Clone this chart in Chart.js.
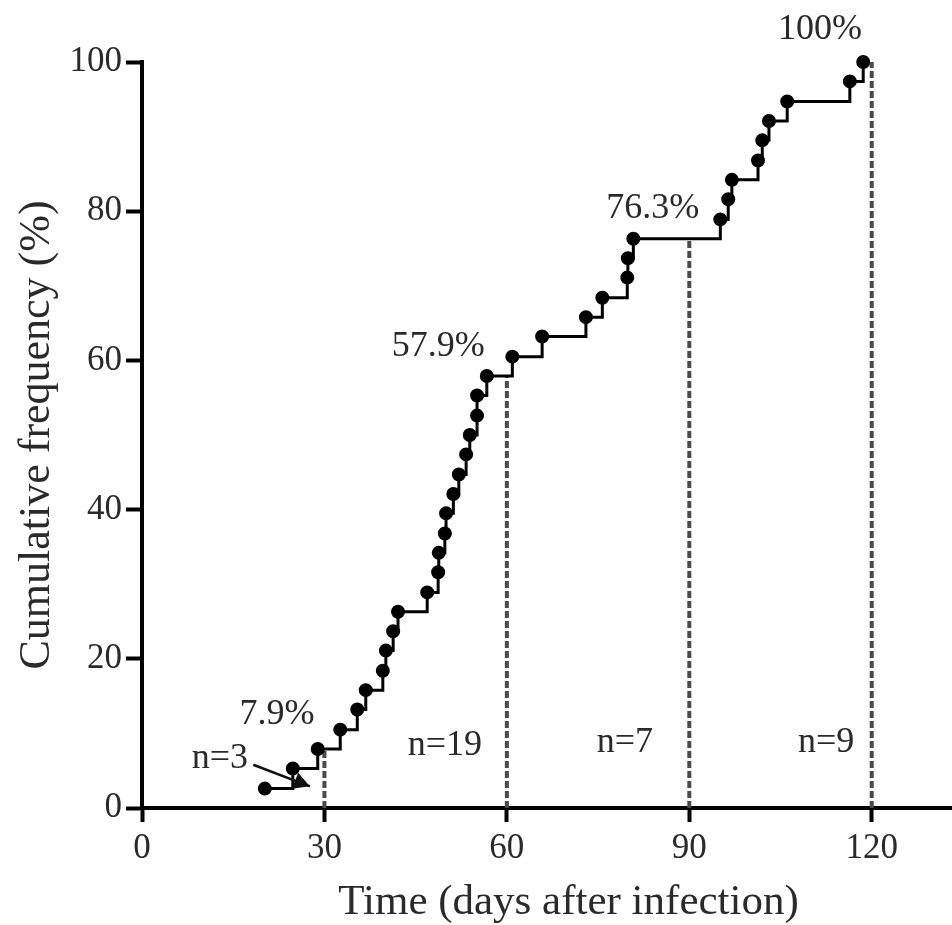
<!DOCTYPE html>
<html>
<head>
<meta charset="utf-8">
<script src="https://cdn.jsdelivr.net/npm/chart.js@4/dist/chart.umd.min.js"></script>
<style>
    body { margin: 0; background: #fff; }
    #wrap { width: 952px; height: 925px; }
</style>
</head>
<body>
<div id="wrap"><canvas id="freqChart" width="952" height="925"></canvas></div>
<script>
// days after infection of each case
const days = [20.2, 24.8, 28.9, 32.6, 35.4, 36.8, 39.6, 40.1, 41.3, 42.1,
    46.9, 48.7, 48.8, 49.8, 50.0, 51.2, 52.1, 53.3, 53.9, 55.1,
    55.1, 56.7, 60.9, 65.8, 73.0, 75.7, 79.8, 79.9, 80.8, 95.1,
    96.4, 97.0, 101.3, 102.0, 103.1, 106.1, 116.4, 118.6];
// cumulative frequency (%)
const cumFreq = [2.6, 5.3, 7.9, 10.5, 13.2, 15.8, 18.4, 21.1, 23.7, 26.3,
    28.9, 31.6, 34.2, 36.8, 39.5, 42.1, 44.7, 47.4, 50.0, 52.6,
    55.3, 57.9, 60.5, 63.2, 65.8, 68.4, 71.1, 73.7, 76.3, 78.9,
    81.6, 84.2, 86.8, 89.5, 92.1, 94.7, 97.4, 100];

const xTicks = [0, 30, 60, 90, 120];
const yTicks = [0, 20, 40, 60, 80, 100];

// dashed guides at 30 / 60 / 90 / 120 days
const guideDays = [30, 60, 90, 120];
const guideTops = [7.9, 57.9, 76.3, 100];

// text notes (data coords)
const noteTexts = ["100%", "76.3%", "57.9%", "7.9%", "n=3", "n=19", "n=7", "n=9"];
const noteX = [111.5, 84.0, 48.7, 22.2, 12.8, 49.8, 79.4, 112.5];
const noteY = [104.4, 80.4, 61.8, 12.5, 6.6, 8.4, 8.8, 8.8];

const arrowFrom = [18.3, 5.8];
const arrowTo = [27.6, 2.9];

const FONT = "'Liberation Serif', 'Times New Roman', serif";
const TEXT = "#2a2a2a";

const notesPlugin = {
    id: "notes",
    afterDatasetsDraw(chart) {
        const { ctx, scales: { x, y } } = chart;
        ctx.save();
        ctx.fillStyle = TEXT;
        ctx.font = "36px " + FONT;
        ctx.textAlign = "center";
        ctx.textBaseline = "middle";
        noteTexts.forEach((t, i) => {
            ctx.fillText(t, x.getPixelForValue(noteX[i]), y.getPixelForValue(noteY[i]));
        });

        // arrow from n=3 to the early cases
        const x1 = x.getPixelForValue(arrowFrom[0]), y1 = y.getPixelForValue(arrowFrom[1]);
        const x2 = x.getPixelForValue(arrowTo[0]), y2 = y.getPixelForValue(arrowTo[1]);
        const ang = Math.atan2(y2 - y1, x2 - x1);
        ctx.strokeStyle = "#111";
        ctx.fillStyle = "#111";
        ctx.lineWidth = 2.5;
        ctx.beginPath();
        ctx.moveTo(x1, y1);
        ctx.lineTo(x2, y2);
        ctx.stroke();
        ctx.beginPath();
        ctx.moveTo(x2, y2);
        ctx.lineTo(x2 - 18 * Math.cos(ang - 0.5), y2 - 18 * Math.sin(ang - 0.5));
        ctx.lineTo(x2 - 18 * Math.cos(ang + 0.5), y2 - 18 * Math.sin(ang + 0.5));
        ctx.closePath();
        ctx.fill();
        ctx.restore();
    }
};

const guideSets = guideDays.map((d, i) => ({
    data: [{ x: d, y: 0 }, { x: d, y: guideTops[i] }],
    borderColor: "#4a4a4a",
    borderWidth: 4,
    borderDash: [7, 3],
    pointRadius: 0,
    clip: false
}));

const ctx = document.getElementById("freqChart");
new Chart(ctx, {
    type: "line",
    data: {
        datasets: [
            {
                data: days.map((d, i) => ({ x: d, y: cumFreq[i] })),
                stepped: true,
                borderColor: "#000",
                borderWidth: 3,
                pointRadius: 5.5,
                pointBackgroundColor: "#000",
                pointBorderColor: "#000",
                clip: false
            },
            ...guideSets
        ]
    },
    options: {
        responsive: false,
        animation: false,
        layout: { autoPadding: false, padding: { top: 62, right: 0, left: 0, bottom: 0 } },
        plugins: { legend: { display: false }, tooltip: { enabled: false } },
        scales: {
            x: {
                type: "linear",
                min: 0,
                max: 133.2,
                afterFit: s => { s.height = 117; s.paddingRight = 0; s.paddingLeft = 0; },
                afterBuildTicks: s => { s.ticks = xTicks.map(v => ({ value: v })); },
                border: { display: true, color: "#000", width: 4 },
                grid: { drawOnChartArea: false, drawTicks: true, tickLength: 14, tickWidth: 4, tickColor: "#000" },
                ticks: { color: TEXT, font: { family: FONT, size: 35 }, padding: 6, maxRotation: 0 },
                title: {
                    display: true,
                    text: "\u2002\u2002Time (days after infection)",
                    color: TEXT,
                    font: { family: FONT, size: 43 },
                    padding: { top: 0, bottom: -4 }
                }
            },
            y: {
                min: 0,
                max: 100,
                afterFit: s => { s.width = 142; },
                afterBuildTicks: s => { s.ticks = yTicks.map(v => ({ value: v })); },
                border: { display: true, color: "#000", width: 4 },
                grid: { drawOnChartArea: false, drawTicks: true, tickLength: 16, tickWidth: 4, tickColor: "#000" },
                ticks: { color: TEXT, font: { family: FONT, size: 35 }, padding: 4 },
                title: {
                    display: true,
                    text: "Cumulative frequency (%)",
                    color: TEXT,
                    font: { family: FONT, size: 44 },
                    padding: { top: 11, bottom: 0 }
                }
            }
        }
    },
    plugins: [notesPlugin]
});
</script>
</body>
</html>
